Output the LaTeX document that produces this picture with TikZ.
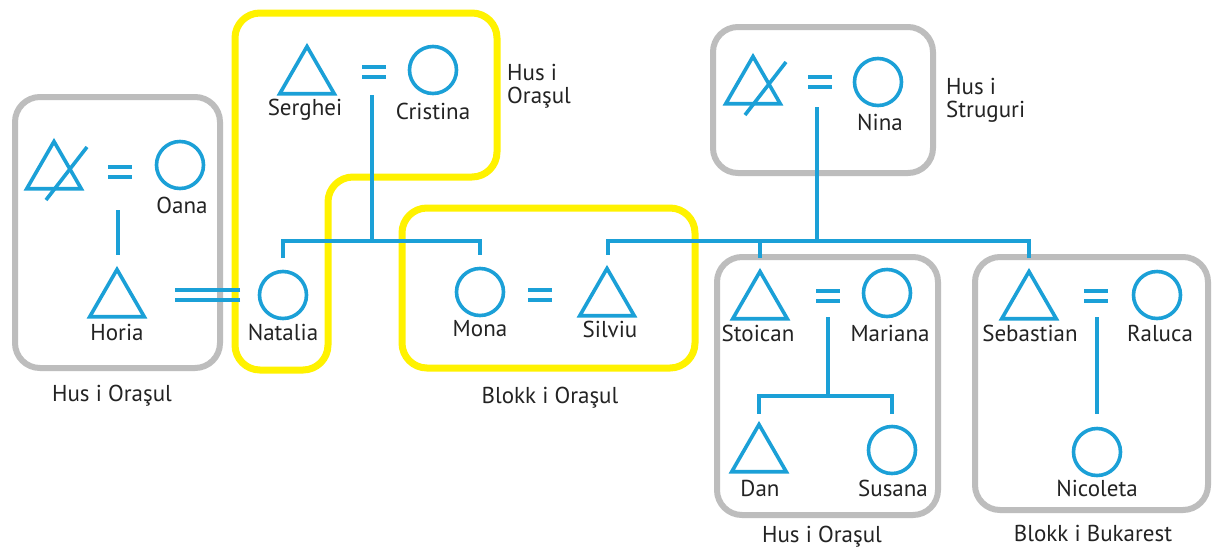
\documentclass[tikz,border=0pt]{standalone}
\usepackage{fontspec}
\setmainfont{PT Sans}
\usetikzlibrary{shapes.geometric}
\definecolor{kblue}{HTML}{1BA0D7}
\definecolor{kyel}{HTML}{FFF200}
\definecolor{kgray}{HTML}{BDBDBD}
\definecolor{ktext}{HTML}{232323}
\newcommand\eqsign[1]{%
  \draw[kin] ([shift={(-12,-5)}]#1) -- ([shift={(12,-5)}]#1);
  \draw[kin] ([shift={(-12,5)}]#1) -- ([shift={(12,5)}]#1);}
\newcommand\deadslash[1]{%
  \draw[kin] ([shift={(-8,27)}]#1.center) -- ([shift={(33,-26)}]#1.center);}
\begin{document}
\begin{tikzpicture}[x=1pt,y=-1pt,
  male/.style={regular polygon, regular polygon sides=3, draw=kblue, line width=3.6pt, minimum size=63pt, inner sep=0pt, outer sep=0pt},
  female/.style={circle, draw=kblue, line width=3.6pt, minimum size=47pt, inner sep=0pt, outer sep=0pt},
  kin/.style={draw=kblue, line width=3.6pt},
  pname/.style={text=ktext, font=\fontsize{23}{24}\selectfont, inner sep=0pt},
  hname/.style={text=ktext, font=\fontsize{23}{23}\selectfont, inner sep=0pt, align=left, anchor=west},
  gbox/.style={draw=kgray, line width=6pt, rounded corners=25pt},
  ybox/.style={draw=kyel, line width=7pt, rounded corners=25pt},
]
\fill[white] (0,0) rectangle (1216,550);
\useasboundingbox (0,0) rectangle (1216,550);

% household boxes
\draw[gbox] (15,97) rectangle (220,368);
\draw[gbox] (713,27) rectangle (933,173);
\draw[gbox] (717,257) rectangle (938,515);
\draw[gbox] (975,257) rectangle (1208,510);
\draw[ybox] (235,13) -- (497,13) -- (497,177) -- (328,177) -- (328,370) -- (235,370) -- cycle;
\draw[ybox] (402,208) rectangle (695,368);

% people
\node[male]   (sd)   at (54,173) {};
\node[female] (oana) at (180,165) {};
\node[male]   (horia) at (117,301) {};
\node[female] (natalia) at (283,295) {};
\node[male]   (serghei) at (307,78) {};
\node[female] (cristina) at (433,70) {};
\node[female] (mona) at (480,292) {};
\node[male]   (silviu) at (607,300) {};
\node[male]   (nd)   at (753,88) {};
\node[female] (nina) at (878,82) {};
\node[male]   (stoican) at (760,303) {};
\node[female] (mariana) at (887,293) {};
\node[male]   (dan) at (759,456) {};
\node[female] (susana) at (892,450) {};
\node[male]   (sebastian) at (1029,303) {};
\node[female] (raluca) at (1157,295) {};
\node[female] (nicoleta) at (1097,452) {};

\deadslash{sd}
\deadslash{nd}

% marriage signs
\coordinate (e1) at (120,172);
\coordinate (e2) at (374,72);
\coordinate (e3) at (540,295);
\coordinate (e4) at (820,82);
\coordinate (e5) at (828,296);
\coordinate (e6) at (1096,296);
\eqsign{e1}\eqsign{e2}\eqsign{e3}\eqsign{e4}\eqsign{e5}\eqsign{e6}

% Horia = Natalia
\draw[kin] ([xshift=-43pt,yshift=5pt]natalia.center) -- ++(-65,0);
\draw[kin] ([xshift=-43pt,yshift=-5pt]natalia.center) -- ++(-65,0);

% descent lines
\coordinate (fam1) at (372,241);
\coordinate (fam2) at (817,241);
\coordinate (fam3) at (828,396);
\draw[kin] ([xshift=-2pt,yshift=-38pt]e1) -- ([xshift=1pt,yshift=15pt]horia.corner 1);
\draw[kin] ([xshift=-2pt,yshift=-23pt]e2) -- (fam1);
\draw[kin] ([yshift=14pt]natalia.north) -- (natalia.north |- fam1) -- (mona.north |- fam1) -- ([yshift=14pt]mona.north);
\draw[kin] ([xshift=-3pt,yshift=-25pt]e4) -- (fam2);
\draw[kin] ([xshift=1pt,yshift=14pt]silviu.corner 1) -- ([xshift=1pt]silviu.corner 1 |- fam2) -- (sebastian.corner 1 |- fam2) -- ([yshift=14pt]sebastian.corner 1);
\draw[kin] (stoican.corner 1 |- fam2) -- ([yshift=14pt]stoican.corner 1);
\draw[kin] ([yshift=-21pt]e5) -- (fam3);
\draw[kin] ([yshift=11pt]dan.corner 1) -- (dan.corner 1 |- fam3) -- (susana.north |- fam3) -- ([yshift=13pt]susana.north);
\draw[kin] ([xshift=1pt,yshift=-21pt]e6) -- ([yshift=15pt]nicoleta.north);

% names
\node[pname] (loana) at (182,205) {Oana};
\node[pname] (lhoria) at (117,332) {Horia};
\node[pname] (lnatalia) at (283,332) {Natalia};
\node[pname] (lserghei) at (305,110) {Serghei};
\node[pname] (lcristina) at (433,111) {Cristina};
\node[pname] (lmona) at (480,329) {Mona};
\node[pname] (lsilviu) at (610,329) {Silviu};
\node[pname] (lnina) at (880,122) {Nina};
\node[pname] (lstoican) at (758,333) {Stoican};
\node[pname] (lmariana) at (890,333) {Mariana};
\node[pname] (ldan) at (760,488) {Dan};
\node[pname] (lsusana) at (893,488) {Susana};
\node[pname] (lsebastian) at (1030,333) {Sebastian};
\node[pname] (lraluca) at (1160,333) {Raluca};
\node[pname] (lnicoleta) at (1097,488) {Nicoleta};

% household labels
\node[pname] (h1) at (112,396) {Hus i Oraşul};
\node[pname] (h2) at (550,398) {Blokk i Oraşul};
\node[pname] (h3) at (822,537) {Hus i Oraşul};
\node[pname] (h4) at (1093,533) {Blokk i Bukarest};
\node[hname] (h5) at (507,86) {Hus i\\Oraşul};
\node[hname] (h6) at (946,100) {Hus i\\Struguri};
\end{tikzpicture}
\end{document}
